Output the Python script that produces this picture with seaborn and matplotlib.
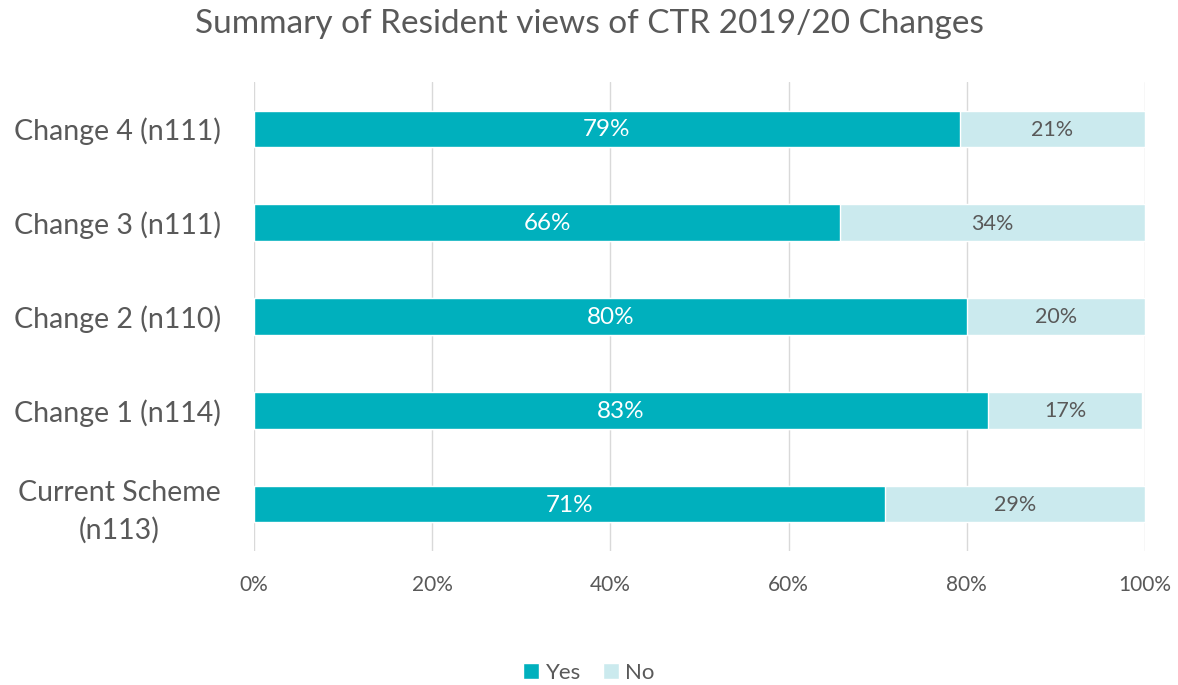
import matplotlib
matplotlib.use("Agg")
import matplotlib.pyplot as plt
import seaborn as sns
import pandas as pd
from matplotlib.patches import Patch

categories = ["Change 4 (n111)", "Change 3 (n111)", "Change 2 (n110)", "Change 1 (n114)", "Current Scheme\n(n113)"]
yes_vals = [79.2, 65.8, 80.0, 82.4, 70.8]
no_vals = [20.8, 34.2, 20.0, 17.3, 29.2]
yes_labels = ["79%", "66%", "80%", "83%", "71%"]
no_labels = ["21%", "34%", "20%", "17%", "29%"]
xticks = [0, 20, 40, 60, 80, 100]
xtick_labels = ["0%", "20%", "40%", "60%", "80%", "100%"]

YES_C = "#00B0BD"
NO_C = "#CBEAEE"
TXT = "#595959"

sns.set_theme(style="white")
plt.rcParams["font.family"] = ["Lato", "DejaVu Sans"]

df = pd.DataFrame({"cat": categories, "yes": yes_vals, "no": no_vals})
df["total"] = df["yes"] + df["no"]

fig = plt.figure(figsize=(11.78, 6.85), dpi=100)
ax = fig.add_axes([254/1178, 1 - 551/685, (1145-254)/1178, (551-82)/685])

sns.barplot(data=df, y="cat", x="total", color=NO_C, orient="h", width=0.39, ax=ax, saturation=1)
sns.barplot(data=df, y="cat", x="yes", color=YES_C, orient="h", width=0.39, ax=ax, saturation=1)

for i in range(len(categories)):
    ax.text(yes_vals[i] / 2, i + 0.01, yes_labels[i], ha="center", va="center", color="white", fontsize=17.5)
    ax.text(yes_vals[i] + no_vals[i] / 2, i + 0.01, no_labels[i], ha="center", va="center", color=TXT, fontsize=15.5)

ax.set_xlim(0, 100)
ax.set_ylim(4.5, -0.5)
ax.set_xticks(xticks)
ax.set_xticklabels(xtick_labels, fontsize=15, color=TXT)
ax.tick_params(axis="x", length=0, pad=17)
ax.tick_params(axis="y", length=0, pad=24)
for lbl in ax.get_yticklabels():
    lbl.set_fontsize(20.5)
    lbl.set_color(TXT)
    lbl.set_multialignment("center")
    lbl.set_linespacing(1.5)
ax.set_xlabel("")
ax.set_ylabel("")
ax.xaxis.grid(True, color="#D9D9D9", linewidth=1)
ax.set_axisbelow(True)
for s in ax.spines.values():
    s.set_visible(False)

fig.suptitle("Summary of Resident views of CTR 2019/20 Changes", y=1 - 24/685, va="center",
             fontsize=24, color=TXT)

handles = [Patch(facecolor=YES_C, label="Yes"), Patch(facecolor=NO_C, label="No")]
fig.legend(handles=handles, loc="center", bbox_to_anchor=(0.5, 1 - 673/685), ncol=2, frameon=False,
           fontsize=16, labelcolor=TXT, handlelength=0.7, handleheight=0.7, handletextpad=0.3, columnspacing=1.0)

fig.savefig("out.png", dpi=100)
